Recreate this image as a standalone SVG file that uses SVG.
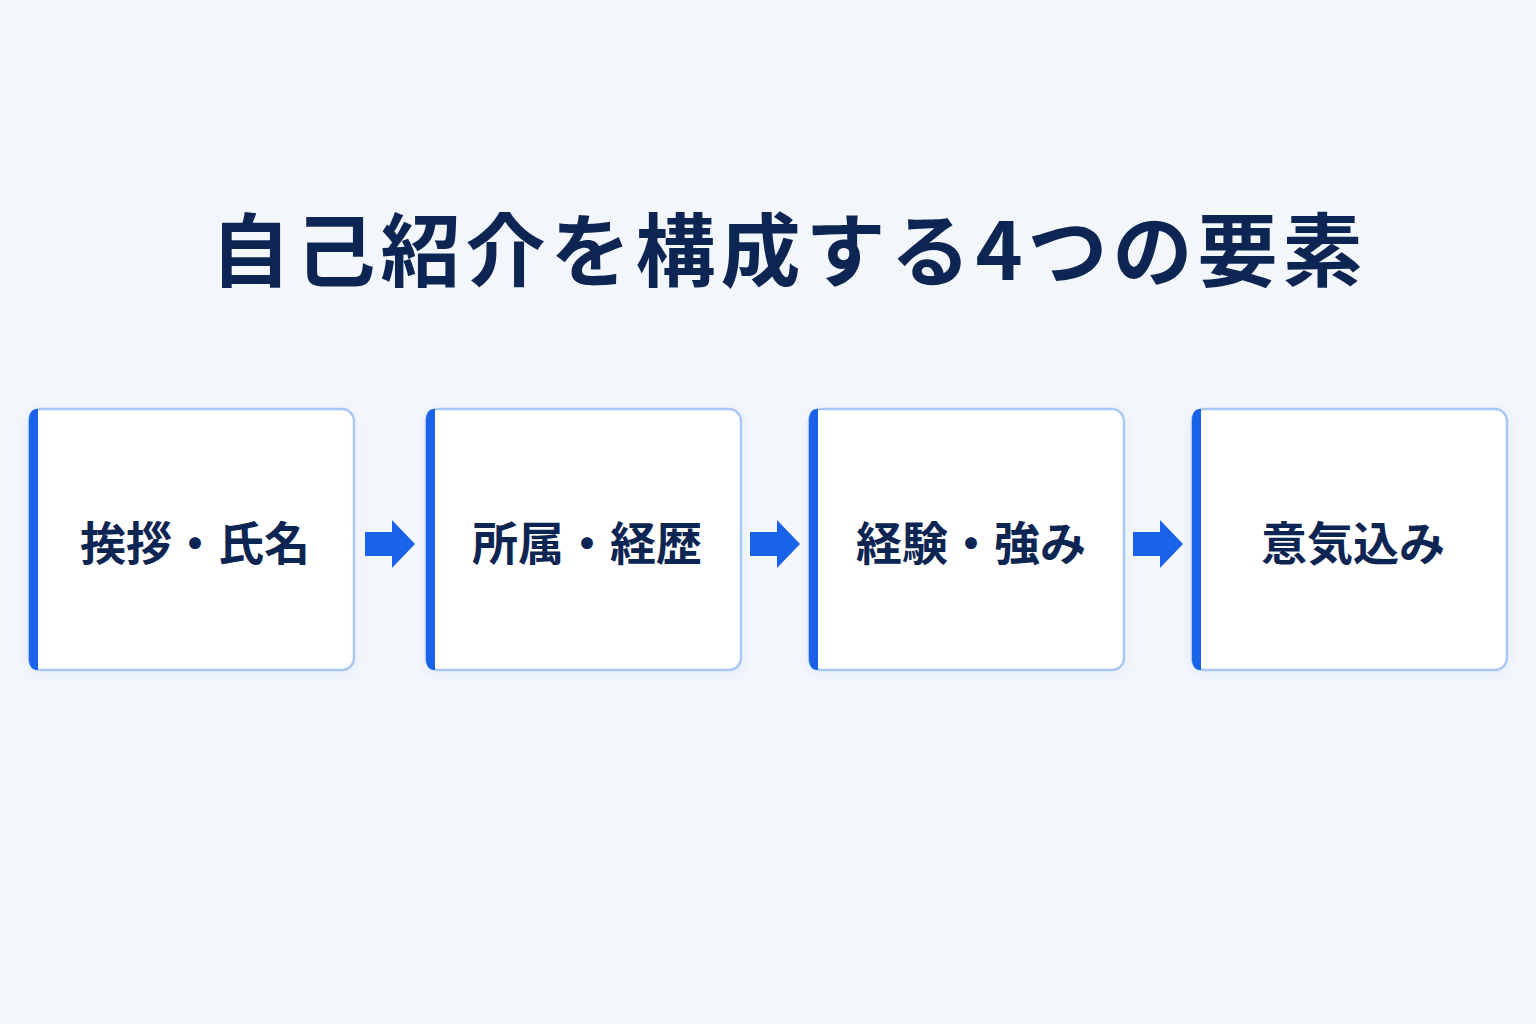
<svg xmlns="http://www.w3.org/2000/svg" width="1536" height="1024" viewBox="0 0 1536 1024">
<defs>
<style>
.title{font-family:"Noto Sans CJK JP","Noto Sans CJK SC",sans-serif;font-weight:700;font-size:80px;fill:#0d2552;letter-spacing:5px}
.box{fill:#ffffff;stroke:#a9c8f5;stroke-width:2.5}
.bar{fill:#1a62e8}
.lbl{font-family:"Noto Sans CJK JP","Noto Sans CJK SC",sans-serif;font-weight:700;font-size:46px;fill:#0d2552;text-anchor:middle}
.arr{fill:#1a62e8}
</style>
<filter id="sh" x="-10%" y="-10%" width="120%" height="130%">
<feDropShadow dx="0" dy="3" stdDeviation="5" flood-color="#2a5aa8" flood-opacity="0.08"/>
</filter>
<path id="arrow" d="M0,-12 H27 V-24 L50,0 L27,24 V12 H0 Z"/>
</defs>
<rect width="1536" height="1024" fill="#f3f7fc"/>
<text class="title" x="789" y="280" text-anchor="middle">自己紹介を構成する4つの要素</text>

<g id="connectors">
<use href="#arrow" class="arr" x="365" y="544"/>
<use href="#arrow" class="arr" x="750" y="544"/>
<use href="#arrow" class="arr" x="1133" y="544"/>
</g>

<g id="node1">
<rect class="box" x="29" y="409" width="325" height="261" rx="12" filter="url(#sh)"/>
<path class="bar" d="M38,409 H37 Q29,409 29,421 V658 Q29,670 37,670 H38 Z"/>
<text class="lbl" x="195" y="560">挨拶・氏名</text>
</g>
<g id="node2">
<rect class="box" x="426" y="409" width="315" height="261" rx="12" filter="url(#sh)"/>
<path class="bar" d="M435,409 H434 Q426,409 426,421 V658 Q426,670 434,670 H435 Z"/>
<text class="lbl" x="587" y="560">所属・経歴</text>
</g>
<g id="node3">
<rect class="box" x="809" y="409" width="315" height="261" rx="12" filter="url(#sh)"/>
<path class="bar" d="M818,409 H817 Q809,409 809,421 V658 Q809,670 817,670 H818 Z"/>
<text class="lbl" x="971" y="560">経験・強み</text>
</g>
<g id="node4">
<rect class="box" x="1192" y="409" width="315" height="261" rx="12" filter="url(#sh)"/>
<path class="bar" d="M1201,409 H1200 Q1192,409 1192,421 V658 Q1192,670 1200,670 H1201 Z"/>
<text class="lbl" x="1353" y="560">意気込み</text>
</g>
</svg>
